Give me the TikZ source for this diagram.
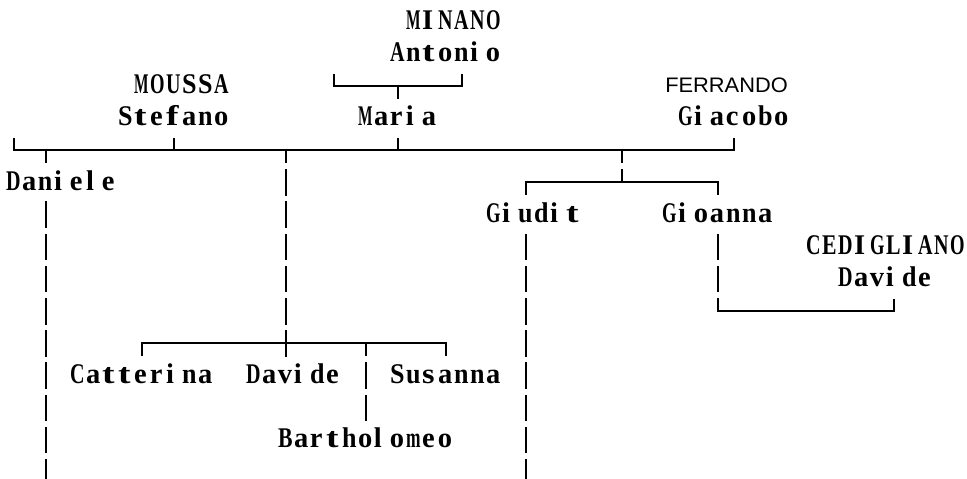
\documentclass[tikz,border=0pt]{standalone}
\usepackage{fontspec}
\usepackage{graphicx}
\newfontfamily\treefont{Liberation Serif}
\newfontfamily\treesans{Liberation Sans}
% grid helpers: column centre, row top
\newcommand\cx[1]{14+16*(#1)}
\newcommand\rt[1]{134+32.2*(#1)}
\newcommand\vbar[2]{\draw[treeline] ({\cx{#1}},{\rt{#2}+3}) -- ({\cx{#1}},{\rt{#2}+29.5});}
\newcommand\tup[2]{\draw[treeline] ({\cx{#1}},{\rt{#2}+4}) -- ({\cx{#1}},{\rt{#2}+16.1});}
\newcommand\tdown[2]{\draw[treeline] ({\cx{#1}},{\rt{#2}+16.1}) -- ({\cx{#1}},{\rt{#2}+29});}
% one character per 16pt cell, left aligned; i, l, I stay narrow,
% wide glyphs are squeezed and narrow ones widened to fill the cell
\newlength\glyphw
\newcommand\cellchar[1]{\settowidth\glyphw{#1}%
  \makebox[16pt][l]{\ifnum0\if#1i1\fi\if#1l1\fi\if#1I1\fi>0 #1%
    \else\ifdim\glyphw>14.5pt \resizebox{14.5pt}{\height}{#1}%
    \else\ifdim\glyphw<12.5pt \resizebox{12.5pt}{\height}{#1}%
    \else #1\fi\fi\fi}}
\def\gridloop#1{\ifx#1\relax\else\cellchar{#1}\expandafter\gridloop\fi}
\newcommand\gridtext[1]{\gridloop#1\relax}
\newcommand\ptext[4]{\node[persontext] (#1) at ({6+16*(#2)},{\rt{#3}+24}) {\gridtext{#4}};}
\begin{document}
\begin{tikzpicture}[x=1pt,y=-1pt,
  persontext/.style={anchor=base west,inner sep=0pt,outer sep=0pt,
    font=\treefont\bfseries\fontsize{28.5}{32}\selectfont},
  treeline/.style={line width=1.8pt,line join=miter},
]
\useasboundingbox[fill=white] (0,0) rectangle (967,479);

% ---- names ----
\ptext{minano}{25}{-4}{MINANO}
\ptext{antonio}{24}{-3}{Antonio}
\ptext{moussa}{8}{-2}{MOUSSA}
\node[anchor=base east,inner sep=0pt,font=\treesans\fontsize{21}{24}\selectfont]
  (ferrando) at (788,{\rt{-2}+23}) {\scalebox{1.04}[1]{FERRANDO}};
\ptext{stefano}{7}{-1}{Stefano}
\ptext{maria}{22}{-1}{Maria}
\ptext{giacobo}{42}{-1}{Giacobo}
\ptext{daniele}{0}{1}{Daniele}
\ptext{giudit}{30}{2}{Giudit}
\ptext{gioanna}{41}{2}{Gioanna}
\ptext{cedigliano}{50}{3}{CEDIGLIANO}
\ptext{davideR}{52}{4}{Davide}
\ptext{catterina}{4}{7}{Catterina}
\ptext{davideL}{15}{7}{Davide}
\ptext{susanna}{24}{7}{Susanna}
\ptext{bartholomeo}{17}{9}{Bartholomeo}

% ---- MINANO Antonio -- Maria ----
\draw[treeline] ({\cx{20}},{\rt{-2}+4}) -- ({\cx{20}},{\rt{-2}+16.1})
  -- ({\cx{28}},{\rt{-2}+16.1}) -- ({\cx{28}},{\rt{-2}+4});
\tdown{24}{-2}

% ---- main line ----
\draw[treeline] ({\cx{0}},{\rt{0}+4}) -- ({\cx{0}},{\rt{0}+16.1})
  -- ({\cx{45}},{\rt{0}+16.1}) -- ({\cx{45}},{\rt{0}+4});
\tup{10}{0}
\tup{24}{0}
\tdown{2}{0}
\tdown{17}{0}
\tdown{38}{0}

% ---- Giudit / Gioanna ----
\draw[treeline] ({\cx{38}},{\rt{1}+3}) -- ({\cx{38}},{\rt{1}+16.1});
\draw[treeline] ({\cx{32}},{\rt{1}+29}) -- ({\cx{32}},{\rt{1}+16.1})
  -- ({\cx{44}},{\rt{1}+16.1}) -- ({\cx{44}},{\rt{1}+29});

% ---- Gioanna -- CEDIGLIANO Davide ----
\vbar{44}{3}
\vbar{44}{4}
\draw[treeline] ({\cx{44}},{\rt{5}+3}) -- ({\cx{44}},{\rt{5}+16.1})
  -- ({\cx{55}},{\rt{5}+16.1}) -- ({\cx{55}},{\rt{5}+4});

% ---- children of the middle column ----
\foreach \k in {1,...,6} {\vbar{17}{\k}}
\draw[treeline] ({\cx{8}},{\rt{6}+29}) -- ({\cx{8}},{\rt{6}+16.1})
  -- ({\cx{27}},{\rt{6}+16.1}) -- ({\cx{27}},{\rt{6}+29});
\tdown{22}{6}
\vbar{22}{7}
\vbar{22}{8}

% ---- long descending lines ----
\foreach \k in {2,...,9} {\vbar{2}{\k}}
\draw[treeline] ({\cx{2}},{\rt{10}+3}) -- ({\cx{2}},479);
\foreach \k in {3,...,9} {\vbar{32}{\k}}
\draw[treeline] ({\cx{32}},{\rt{10}+3}) -- ({\cx{32}},479);
\end{tikzpicture}
\end{document}
